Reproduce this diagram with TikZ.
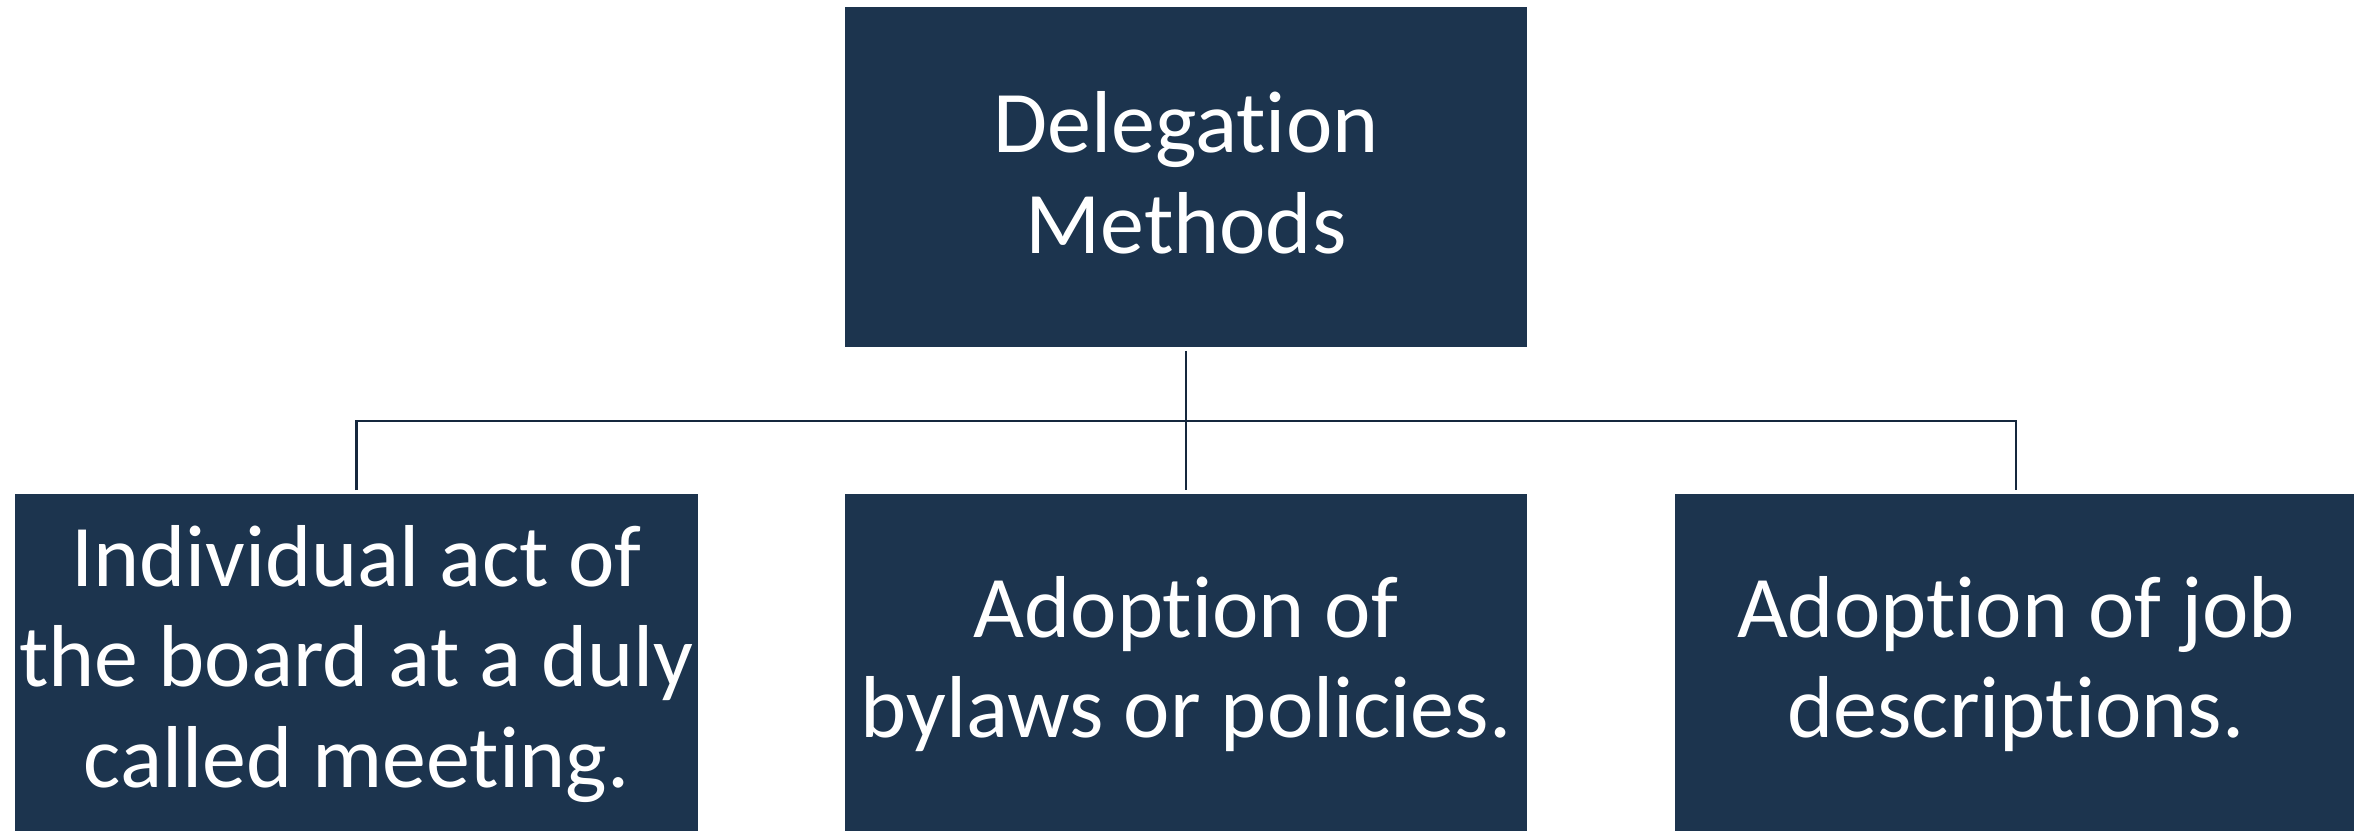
\documentclass[tikz,border=0pt]{standalone}
\usepackage{fontspec}
\setmainfont{Carlito}[RawFeature=-liga]
\definecolor{navy}{HTML}{1C344E}
\definecolor{linec}{HTML}{15283D}
\begin{document}
\begin{tikzpicture}[x=0.01cm,y=-0.01cm,
  box/.style={fill=navy,draw=none,minimum width=6.82cm,minimum height=3.40cm,
    inner sep=0pt,text=white,align=center,
    font=\fontsize{25pt}{28.6pt}\selectfont},
  conn/.style={draw=linec,line width=0.75pt}]
\useasboundingbox (0,0) rectangle (2354,830);
\begin{scope}
\clip (0,0) rectangle (2354,830);
\node[box] (top) at (1186,177) {Delegation\\Methods\rule[-0.09cm]{0pt}{0pt}};
\node[box] (lb) at (356.5,664) {Individual act of\\the board at a duly\\called meeting.};
\node[box] (mb) at (1186,664) {Adoption of\\bylaws or policies.};
\node[box] (rb) at (2016,664) {Adoption of job\\descriptions.};
\end{scope}
\coordinate (bus) at (1186,421);
\draw[conn] ([yshift=-0.03cm]top.south) -- ([yshift=0.03cm]mb.north);
\draw[conn] ([yshift=0.03cm]lb.north) |- (bus) -| ([yshift=0.03cm]rb.north);
\end{tikzpicture}
\end{document}
